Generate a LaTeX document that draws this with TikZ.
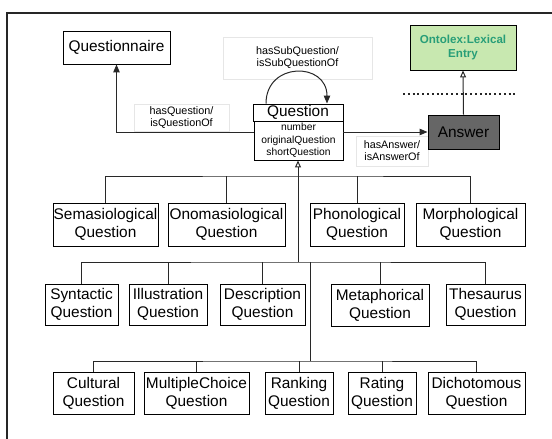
\documentclass[tikz,border=0pt]{standalone}
\usepackage{fontspec}
\setmainfont{Liberation Sans}
\usetikzlibrary{arrows.meta}
\definecolor{lexfill}{RGB}{200,232,176}
\definecolor{lextext}{RGB}{40,158,120}
\definecolor{ansfill}{RGB}{102,102,102}
\definecolor{conn}{RGB}{40,40,40}
\definecolor{lblborder}{RGB}{230,230,230}
\begin{document}
\begin{tikzpicture}[x=1pt,y=-1pt,
  box/.style={draw=black, line width=0.9pt, inner sep=0pt, align=center,
    font=\fontsize{15.4}{18}\selectfont},
  attrbox/.style={draw=black, line width=0.9pt, inner sep=0pt, align=center,
    font=\fontsize{10.3}{12.5}\selectfont},
  lbl/.style={draw=lblborder, fill=white, line width=0.6pt, inner sep=0pt, align=center,
    font=\fontsize{10.8}{12}\selectfont},
  conline/.style={draw=conn, line width=1pt},
  fillarrow/.style={conline, -{Triangle[length=8pt,width=6.5pt]}},
  openarrow/.style={conline, -{Triangle[open,length=7pt,width=6pt]}}
]
\useasboundingbox (0,0) rectangle (552,439);
% frame
\draw[line width=2pt, color=black!85] (7,439) -- (7,13) -- (552,13);

% label boxes
\node[lbl, minimum width=149pt, minimum height=42pt] (lsub) at (297.5,58) {hasSubQuestion/\\isSubQuestionOf};
\node[lbl, minimum width=95pt, minimum height=27pt] (lq) at (181.5,117.5) {hasQuestion/\\isQuestionOf};
\node[lbl, minimum width=72pt, minimum height=30pt] (la) at (392,151) {hasAnswer/\\isAnswerOf};

% top nodes
\node[box, minimum width=107pt, minimum height=33pt] (qnaire) at (116.5,47.5) {Questionnaire};
\node[box, fill=lexfill, text=lextext, minimum width=106pt, minimum height=45pt,
  font=\fontsize{11.6}{14}\selectfont\bfseries] (lex) at (463,47.5) {Ontolex:Lexical\\Entry};
\node[box, fill=ansfill, text=black, minimum width=71pt, minimum height=34pt] (answer) at (463.5,132) {Answer};
\node[box, minimum width=90pt, minimum height=17pt] (qhead) at (298,112.5) {Question};
\node[attrbox, fill=white, minimum width=89pt, minimum height=39pt] (qattr) at (298.5,140.5) {number\\originalQuestion\\shortQuestion};

% dotted separator
\draw[line width=2.2pt, dash pattern=on 2pt off 2.8pt, color=black!85] (403,94) -- (517,94);

% row 1
\node[box, minimum width=105pt, minimum height=43pt] (sem) at (105.5,224.5) {Semasiological\\Question};
\node[box, minimum width=117pt, minimum height=43pt] (ono) at (226.5,224.5) {Onomasiological\\Question};
\node[box, minimum width=94pt, minimum height=43pt] (pho) at (357,224.5) {Phonological\\Question};
\node[box, minimum width=109pt, minimum height=43pt] (mor) at (470.5,224.5) {Morphological\\Question};
% row 2
\node[box, minimum width=73pt, minimum height=41pt] (syn) at (81.5,304.5) {Syntactic\\Question};
\node[box, minimum width=78pt, minimum height=41pt] (ill) at (168,304.5) {Illustration\\Question};
\node[box, minimum width=85pt, minimum height=41pt] (des) at (262.5,304.5) {Description\\Question};
\node[box, minimum width=98pt, minimum height=42pt] (met) at (380,305) {Metaphorical\\Question};
\node[box, minimum width=79pt, minimum height=41pt] (the) at (485.5,304.5) {Thesaurus\\Question};
% row 3
\node[box, minimum width=81pt, minimum height=42pt] (cul) at (93.5,393) {Cultural\\Question};
\node[box, minimum width=105pt, minimum height=42pt] (mul) at (196.5,393) {MultipleChoice\\Question};
\node[box, minimum width=68pt, minimum height=42pt] (ran) at (299,393) {Ranking\\Question};
\node[box, minimum width=68pt, minimum height=42pt] (rat) at (382,393) {Rating\\Question};
\node[box, minimum width=97pt, minimum height=42pt] (dic) at (476.5,393) {Dichotomous\\Question};

% bus coordinates
\coordinate (b1) at (298,176);
\coordinate (b2) at (298,262);
\coordinate (t2) at (310,262);
\coordinate (b3) at (310,361);

% top connectors
\draw[fillarrow] (qattr.west |- answer.west) -| (qnaire.south);
\draw[fillarrow] (qattr.east |- answer.west) -- (answer.west);
\draw[openarrow] (answer.north) -- (lex.south);
\draw[fillarrow] ([xshift=-32pt]qhead.north) .. controls +(0,-42) and +(0,-42) .. ([xshift=29pt]qhead.north);

% inheritance trunk
\draw[openarrow] (b2) -- (b2 |- qattr.south);

% row 1 bus
\draw[conline] (sem.north) |- (b1) -| (mor.north);
\draw[conline] (ono.north) -- (ono.north |- b1);
\draw[conline] (pho.north) -- (pho.north |- b1);

% row 2 bus
\draw[conline] (syn.north) |- (b2) -| (the.north);
\draw[conline] (ill.north) -- (ill.north |- b2);
\draw[conline] (des.north) -- (des.north |- b2);
\draw[conline] (met.north) -- (met.north |- b2);
\draw[conline] (t2) -- (b3);

% row 3 bus
\draw[conline] (cul.north) |- (b3) -| (dic.north);
\draw[conline] (mul.north) -- (mul.north |- b3);
\draw[conline] (ran.north) -- (ran.north |- b3);
\draw[conline] (rat.north) -- (rat.north |- b3);
\end{tikzpicture}
\end{document}
